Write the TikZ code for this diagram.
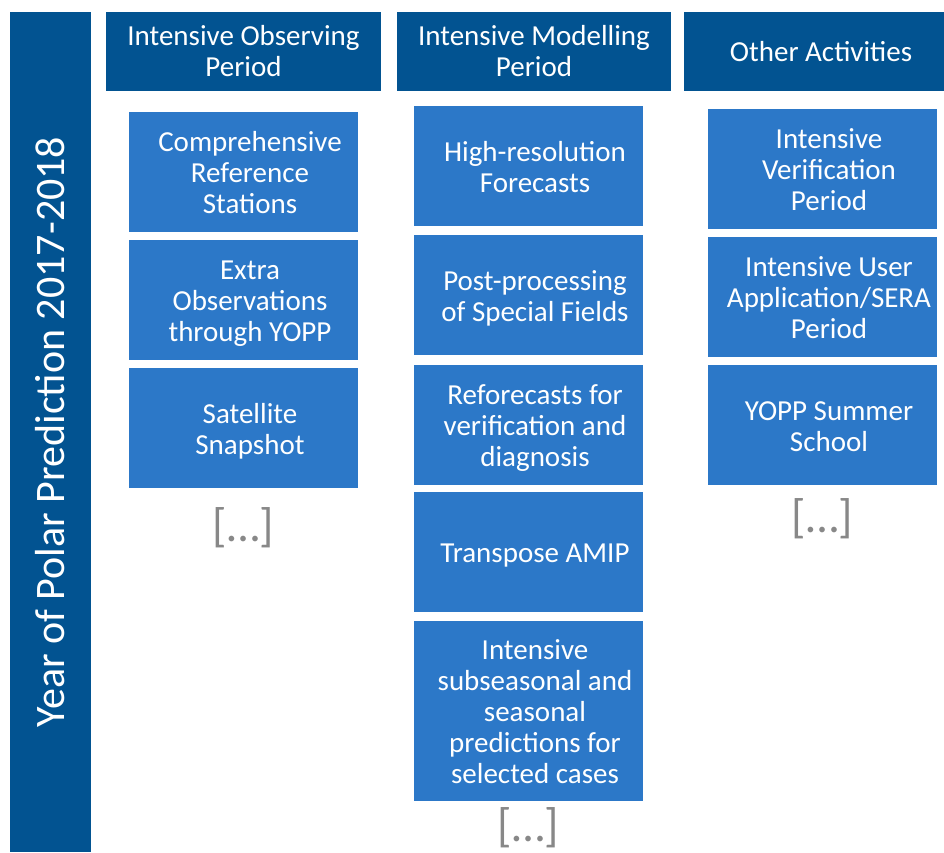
\documentclass[tikz,border=0pt]{standalone}
\usepackage{fontspec}
\setmainfont{Carlito}
\usetikzlibrary{positioning}
\definecolor{yoppdark}{RGB}{2,83,145}
\definecolor{yoppblue}{RGB}{44,120,200}
\definecolor{yoppgray}{RGB}{136,136,136}
\newcommand{\actlines}[1]{\hspace*{13pt}\raisebox{0pt}[\dimexpr\height+9pt\relax]{\begin{tabular}{@{}c@{}}#1\end{tabular}}}
\tikzset{%
	band/.style     = {fill=yoppdark, text=white, rotate=90, minimum width=840pt, minimum height=81pt, inner sep=0pt, font=\fontsize{42}{48}\selectfont}, % Year bar
	header/.style   = {fill=yoppdark, text=white, minimum width=274pt, minimum height=79pt, align=center, inner sep=0pt, font=\fontsize{29}{31}\selectfont}, % Column title
	activity/.style = {fill=yoppblue, text=white, minimum width=229pt, minimum height=120pt, inner sep=0pt, font=\fontsize{29}{31}\selectfont},
	more/.style     = {text=yoppgray, font=\fontsize{47}{50}\selectfont}, % [...]
}

\begin{document}
\begin{tikzpicture}[x=1pt,y=-1pt,node distance=128pt]
	\useasboundingbox (0,0) rectangle (944,852);
	\node [band] (year) at (50.5,432) {Year of Polar Prediction 2017-2018};
	
	\node [header,minimum width=275pt] (iop) at (243.5,51.5) {Intensive Observing\\Period};
	\node [header] (imp) at (534,51.5) {Intensive Modelling\\Period};
	\node [header] (other) at (821,51.5) {Other Activities};
	
	\node [activity] (crs) [below of=iop,node distance=120.5pt] {\actlines{Comprehensive\\Reference\\Stations}};
	\node [activity] (extra) [below of=crs] {\actlines{Extra\\Observations\\through YOPP}};
	\node [activity] (sat) [below of=extra] {\actlines{Satellite\\Snapshot}};
	\node [more] (iopmore) [below of=sat,node distance=100pt] {[…]};
	
	\node [activity] (hires) at (528.5,166) {\actlines{High-resolution\\Forecasts}};
	\node [activity] (post) [below of=hires,node distance=129pt] {\actlines{Post-processing\\of Special Fields}};
	\node [activity] (refc) [below of=post,node distance=129.5pt] {\actlines{Reforecasts for\\verification and\\diagnosis}};
	\node [activity] (amip) [below of=refc,node distance=127.5pt] {\actlines{Transpose AMIP}};
	\node [activity,minimum height=180pt] (s2s) [below of=amip,node distance=159pt] {\actlines{Intensive\\subseasonal and\\seasonal\\predictions for\\selected cases}};
	\node [more] (impmore) [below of=s2s,node distance=117pt] {[…]};
	
	\node [activity] (ivp) at (822.5,169) {\actlines{Intensive\\Verification\\Period}};
	\node [activity] (user) [below of=ivp] {\actlines{Intensive User\\Application/SERA\\Period}};
	\node [activity] (school) [below of=user] {\actlines{YOPP Summer\\School}};
	\node [more] (othermore) [below of=school,node distance=94pt] {[…]};
\end{tikzpicture}
\end{document}
